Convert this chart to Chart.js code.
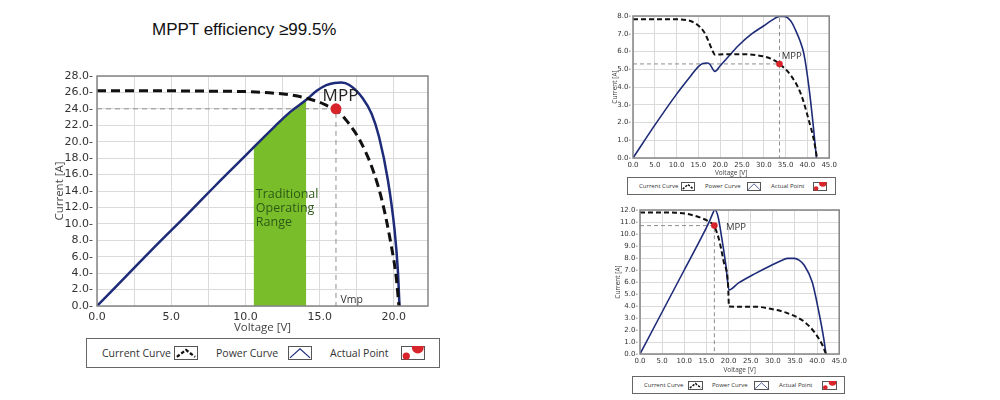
<!DOCTYPE html>
<html>
<head>
<meta charset="utf-8">
<script src="https://cdn.jsdelivr.net/npm/chart.js@4.4.0/dist/chart.umd.min.js"></script>
<style>
    body { margin: 0; background: #fff; }
    #wrap { position: relative; width: 1000px; height: 400px; overflow: hidden; font-family: 'Open Sans', sans-serif; color: #333; }
    canvas { position: absolute; }
    #title { position: absolute; left: 152px; top: 20px; font-family: 'Liberation Sans', Arial, sans-serif; font-size: 17px; color: #111; white-space: nowrap; }
    .legend { position: absolute; border: 1.5px solid #666; box-sizing: border-box; background: #fff; }
    .legend span, .legend svg { position: absolute; white-space: nowrap; }
</style>
</head>
<body>
<div id="wrap">
    <div id="title">MPPT efficiency ≥99.5%</div>

    <canvas id="mainChart" width="395" height="275" style="left:40px; top:60px;"></canvas>
    <canvas id="topChart" width="240" height="172" style="left:600px; top:5px;"></canvas>
    <canvas id="bottomChart" width="250" height="179" style="left:600px; top:195px;"></canvas>

    <div class="legend" id="legMain" style="left:86px; top:338px; width:354px; height:30px;"></div>
    <div class="legend" id="legTop" style="left:627px; top:177px; width:209px; height:18px;"></div>
    <div class="legend" id="legBottom" style="left:632px; top:376px; width:213px; height:18px;"></div>
</div>

<script>
// ---- Данные: большой график ----
const mainCurV = [0, 4, 8, 10, 12, 13, 14, 15, 15.5, 16.1, 16.8, 17.7, 18.6, 19.26, 19.8, 20.16, 20.34];
const mainCurI = [26.2, 26.2, 26.15, 26.1, 25.9, 25.7, 25.35, 24.8, 24.4, 23.9, 22.6, 20.2, 16.5, 12.4, 7.6, 3.5, 0];
const mainPowV = [0, 2, 4, 6, 8, 10, 10.6, 12, 13, 14.1, 14.8, 15.45, 16, 16.46, 17, 17.9, 18.5, 19.0, 19.6, 20.05, 20.27, 20.38];
const mainPowP = [0, 3.7, 7.4, 11.0, 14.7, 18.3, 19.4, 21.9, 23.6, 25.1, 26.2, 26.9, 27.15, 27.2, 26.9, 25.3, 23.4, 20.6, 15.3, 9.2, 4.3, 0];
const mainBandV = [10.55, 12, 13, 14.1];
const mainBandP = [19.3, 21.9, 23.6, 25.1];
const mainMpp = [16.1, 24.0];

// ---- Данные: верхний правый ----
const topCurV = [0, 8, 12.2, 14.4, 16.3, 17.4, 18.2, 18.8, 21, 24.2, 28.7, 31.7, 33.6, 36.2, 38.5, 40.35, 41.5, 42.2];
const topCurI = [7.82, 7.82, 7.77, 7.57, 7.1, 6.53, 6.06, 5.82, 5.85, 5.85, 5.78, 5.59, 5.3, 4.65, 3.61, 2.1, 1.0, 0];
const topPowV = [0, 5, 10, 13, 15, 16, 17, 17.6, 18.8, 20, 22, 24.2, 27, 30, 32, 33.6, 34.5, 35.5, 36.5, 37.3, 38.3, 39.2, 40.35, 41.3, 42.07];
const topPowP = [0, 1.85, 3.6, 4.55, 5.15, 5.32, 5.35, 5.28, 4.88, 5.2, 5.75, 6.34, 6.95, 7.45, 7.78, 7.98, 7.98, 7.9, 7.6, 7.19, 6.6, 5.87, 3.99, 1.92, 0];
const topMpp = [33.6, 5.3];

// ---- Данные: нижний правый ----
const botCurV = [0, 8, 11.1, 14.1, 15.5, 16.7, 17.8, 18.9, 19.9, 20.1, 26, 29.7, 33.4, 37.1, 39.3, 41.2, 42];
const botCurI = [11.8, 11.78, 11.64, 11.3, 11.05, 10.7, 9.6, 7.7, 5.75, 3.95, 3.94, 3.75, 3.39, 2.69, 1.86, 0.75, 0];
const botPowV = [0, 5, 10, 14, 15.5, 16.3, 16.9, 17.6, 18.5, 19.4, 20.1, 22.2, 26, 29.7, 32, 33.4, 34.9, 36, 37.1, 38.9, 40.4, 41.5, 42];
const botPowP = [0, 3.5, 7.0, 9.8, 10.9, 11.6, 12.0, 11.5, 9.6, 7.4, 5.33, 5.9, 6.7, 7.4, 7.8, 7.97, 7.97, 7.8, 7.4, 6.0, 3.5, 1.3, 0];
const botMpp = [16.8, 10.7];

const legendNames = ['Current Curve', 'Power Curve', 'Actual Point'];

const BLUE = '#1d2b78';
const RED = '#d8242b';
const GRID = '#dadada';

function pts(xs, ys) {
    return xs.map((x, i) => ({ x: x, y: ys[i] }));
}

// Надписи на графике (в координатах данных)
function notesPlugin(items) {
    return {
        id: 'notes',
        afterDatasetsDraw(chart) {
            const ctx = chart.ctx;
            const x = chart.scales.x, y = chart.scales.y;
            items.forEach(n => {
                ctx.save();
                ctx.font = n.font;
                ctx.fillStyle = n.color;
                ctx.textAlign = 'left';
                ctx.textBaseline = 'middle';
                ctx.fillText(n.text, x.getPixelForValue(n.x), y.getPixelForValue(n.y));
                ctx.restore();
            });
        }
    };
}

// Рамка вокруг области графика
const framePlugin = {
    id: 'frame',
    afterDraw(chart) {
        const { ctx, chartArea: a } = chart;
        ctx.save();
        ctx.strokeStyle = '#858585';
        ctx.lineWidth = 1.5;
        ctx.strokeRect(a.left, a.top, a.right - a.left, a.bottom - a.top);
        ctx.restore();
    }
};

function makeChart(id, s) {
    const tickFont = { family: "'DejaVu Sans', sans-serif", size: s.tickSize };
    const titleFont = { family: "'Open Sans', sans-serif", size: s.titleSize };
    return new Chart(document.getElementById(id), {
        type: 'scatter',
        data: { datasets: s.datasets },
        options: {
            responsive: false,
            animation: false,
            events: [],
            layout: { padding: s.pad },
            plugins: { legend: { display: false }, tooltip: { enabled: false } },
            scales: {
                x: {
                    type: 'linear', min: 0, max: s.xMax,
                    afterFit: sc => { sc.height = s.xH; },
                    ticks: {
                        stepSize: s.xStep, autoSkip: false, maxRotation: 0, padding: s.xPad, includeBounds: false,
                        font: tickFont, color: '#333',
                        callback: v => (Math.abs(v / s.xLab - Math.round(v / s.xLab)) < 1e-6 ? v.toFixed(1) : '')
                    },
                    grid: { color: GRID, drawTicks: false },
                    border: { display: false },
                    title: { display: true, text: 'Voltage [V]', font: titleFont, color: '#444', padding: 0 }
                },
                y: {
                    type: 'linear', min: 0, max: s.yMax,
                    afterFit: sc => { sc.width = s.yW; },
                    ticks: {
                        stepSize: s.yStep, autoSkip: false, padding: s.yPad,
                        font: tickFont, color: '#333',
                        callback: v => v.toFixed(1) + '-'
                    },
                    grid: { color: GRID, drawTicks: false },
                    border: { display: false },
                    title: { display: true, text: 'Current [A]', font: titleFont, color: '#444', padding: 0 }
                }
            }
        },
        plugins: [notesPlugin(s.notes), framePlugin]
    });
}

function curveSets(curV, curI, powV, powP, mpp, st, extraRef) {
    const refPts = [{ x: 0, y: mpp[1] }, { x: mpp[0], y: mpp[1] }, { x: mpp[0], y: 0 }];
    const sets = [
        { data: [{ x: mpp[0], y: mpp[1] }], pointRadius: st.r, pointBackgroundColor: RED, pointBorderWidth: 0, order: 0 },
        { data: pts(curV, curI), showLine: true, borderColor: '#111', borderWidth: st.dashW, borderDash: st.dash,
          cubicInterpolationMode: 'monotone', pointRadius: 0, order: 1 },
        { data: pts(powV, powP), showLine: true, borderColor: BLUE, borderWidth: st.blueW,
          cubicInterpolationMode: 'monotone', pointRadius: 0, order: 2 },
        { data: refPts, showLine: true, borderColor: '#8e8e8e', borderWidth: 1, borderDash: st.refDash,
          tension: 0, pointRadius: 0, order: 3 }
    ];
    if (extraRef) {
        sets.push({ data: [{ x: mpp[0], y: mpp[1] }, { x: mpp[0], y: extraRef }], showLine: true, borderColor: '#8e8e8e',
            borderWidth: 1, borderDash: st.refDash, tension: 0, pointRadius: 0, order: 3 });
    }
    return sets;
}

// Большой график
const mainSets = curveSets(mainCurV, mainCurI, mainPowV, mainPowP, mainMpp,
    { r: 5.5, dashW: 3, dash: [9, 5], blueW: 2.5, refDash: [5, 4] });
mainSets.push({ data: pts(mainBandV, mainBandP), showLine: true, fill: 'origin', backgroundColor: '#79bd2b',
    borderWidth: 0, borderColor: 'rgba(0,0,0,0)', cubicInterpolationMode: 'monotone', pointRadius: 0, order: 4 });

makeChart('mainChart', {
    datasets: mainSets,
    pad: { left: 13, top: 16, right: 7, bottom: 0 },
    xMax: 22.3, xStep: 2.5, xLab: 5, xH: 29, xPad: 5,
    yMax: 28, yStep: 2, yW: 44, yPad: 4,
    tickSize: 11, titleSize: 11.5,
    notes: [
        { text: 'Traditional', x: 10.7, y: 13.6, font: "12.5px 'Open Sans', sans-serif", color: '#2c5a17' },
        { text: 'Operating', x: 10.7, y: 11.9, font: "12.5px 'Open Sans', sans-serif", color: '#2c5a17' },
        { text: 'Range', x: 10.7, y: 10.2, font: "12.5px 'Open Sans', sans-serif", color: '#2c5a17' },
        { text: 'MPP', x: 15.2, y: 25.6, font: "17px 'Open Sans', sans-serif", color: '#222' },
        { text: 'Vmp', x: 16.4, y: 0.7, font: "10.5px 'Open Sans', sans-serif", color: '#333' }
    ]
});

// Верхний правый
makeChart('topChart', {
    datasets: curveSets(topCurV, topCurI, topPowV, topPowP, topMpp,
        { r: 3.3, dashW: 2, dash: [5, 3], blueW: 1.6, refDash: [4, 3] }, 8),
    pad: { left: 11, top: 11, right: 8, bottom: 0 },
    xMax: 45, xStep: 5, xLab: 5, xH: 19, xPad: 3,
    yMax: 8, yStep: 1, yW: 22, yPad: 2,
    tickSize: 7, titleSize: 6.5,
    notes: [
        { text: 'MPP', x: 34.1, y: 5.75, font: "9.5px 'Open Sans', sans-serif", color: '#333' }
    ]
});

// Нижний правый
makeChart('bottomChart', {
    datasets: curveSets(botCurV, botCurI, botPowV, botPowP, botMpp,
        { r: 3.3, dashW: 2, dash: [5, 3], blueW: 1.6, refDash: [4, 3] }),
    pad: { left: 14, top: 15, right: 8, bottom: 0 },
    xMax: 45, xStep: 5, xLab: 5, xH: 20, xPad: 3,
    yMax: 12, yStep: 1, yW: 26, yPad: 2,
    tickSize: 7, titleSize: 6.5,
    notes: [
        { text: 'MPP', x: 19.4, y: 10.6, font: "9.5px 'Open Sans', sans-serif", color: '#333' }
    ]
});

// Легенды (HTML)
function icon(kind, w, h) {
    let inner = '';
    if (kind === 0) {
        inner = `<polyline points="${w * 0.12},${h * 0.78} ${w * 0.5},${h * 0.28} ${w * 0.88},${h * 0.78}" fill="none" stroke="#111" stroke-width="${h / 6}" stroke-dasharray="${h / 4},${h / 7}"/>`;
    } else if (kind === 1) {
        inner = `<polyline points="${w * 0.08},${h * 0.85} ${w * 0.5},${h * 0.2} ${w * 0.92},${h * 0.85}" fill="none" stroke="${BLUE}" stroke-width="${h / 12}"/>`;
    } else {
        inner = `<circle cx="${w * 0.22}" cy="${h * 0.72}" r="${h * 0.26}" fill="${RED}"/>` +
                `<circle cx="${w * 0.7}" cy="${h * 0.12}" r="${h * 0.42}" fill="${RED}"/>`;
    }
    return `<rect x="0.5" y="0.5" width="${w - 1}" height="${h - 1}" fill="#fff" stroke="#555" stroke-width="1"/>` + inner;
}

function buildLegend(id, textX, iconX, iw, ih, fontSize) {
    const box = document.getElementById(id);
    const bh = box.clientHeight;
    let html = '';
    legendNames.forEach((name, i) => {
        html += `<span style="left:${textX[i]}px; top:${(bh - fontSize * 1.35) / 2}px; font-size:${fontSize}px; line-height:${fontSize * 1.35}px;">${name}</span>`;
        html += `<svg width="${iw}" height="${ih}" style="left:${iconX[i]}px; top:${(bh - ih) / 2}px;">${icon(i, iw, ih)}</svg>`;
    });
    box.innerHTML = html;
}

buildLegend('legMain', [15, 129, 243], [87, 201, 314], 24, 14, 10.5);
buildLegend('legTop', [11, 77, 143], [53, 119, 185], 14, 9, 6);
buildLegend('legBottom', [11, 79, 146], [55, 121, 189], 15, 9, 6);
</script>
</body>
</html>
